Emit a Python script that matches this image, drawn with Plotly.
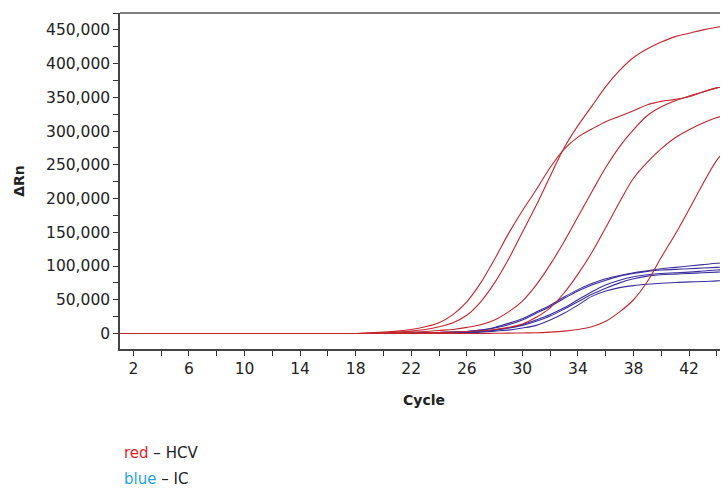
import plotly.graph_objects as go

cycles = list(range(1, 46))

# HCV (red) amplification curves, ΔRn per cycle 1..45
hcv_a = [0]*18 + [500, 1000, 2000, 3500, 6000, 10000, 16000, 27000, 47000, 75000, 110000, 150000,
                  190000, 233000, 275000, 308000, 337000, 366000, 390000, 409000, 422000, 432000,
                  440000, 445000, 450000, 454000, 457000]
hcv_b = [0]*18 + [1000, 2000, 3500, 6000, 10000, 16000, 28000, 47000, 75000, 110000, 148000, 182000,
                  213000, 246000, 273000, 291000, 303000, 314000, 322000, 330000, 339000, 344000,
                  347000, 351000, 358000, 364000, 368000]
hcv_c = [0]*19 + [500, 1000, 2000, 3000, 4500, 6000, 9000, 13000, 20000, 32000, 48000, 72000,
                  102000, 136000, 173000, 210000, 246000, 277000, 302000, 323000, 336000,
                  345000, 352000, 358000, 364000, 368000]
hcv_d = [0]*21 + [500, 1000, 1500, 2000, 3000, 4000, 6000, 9000, 14000, 24000, 38000, 60000,
                  88000, 120000, 157000, 195000, 230000, 254000, 274000, 290000, 302000,
                  312000, 320000, 326000]
hcv_e = [0]*27 + [300, 500, 800, 1000, 2000, 3500, 6000, 10000, 18000, 32000, 50000, 77000,
                  113000, 147000, 184000, 222000, 257000, 281000]

# IC (blue) curves
ic_1 = [0]*21 + [500, 1000, 1500, 2000, 3000, 5000, 9000, 15000, 22000, 32000, 42000, 54000, 65000,
                 74000, 81000, 86000, 90000, 93000, 96000, 98000, 100000, 102000, 104000, 105500]
ic_2 = [0]*21 + [500, 1000, 1500, 2000, 3000, 5000, 8000, 13000, 20000, 30000, 40000, 52000, 63000,
                 72000, 79000, 85000, 89000, 92000, 94000, 95000, 96000, 97000, 98000, 99000]
ic_3 = [0]*21 + [300, 700, 1000, 1500, 2000, 3000, 5000, 8000, 13000, 20000, 28000, 38000, 50000,
                 62000, 72000, 79000, 84000, 87000, 89000, 90000, 91000, 92500, 94000, 95000]
ic_4 = [0]*21 + [300, 700, 1000, 1500, 2000, 3000, 5000, 8000, 12000, 18000, 26000, 36000, 47000,
                 58000, 67000, 75000, 81000, 85000, 87000, 88000, 89000, 90000, 91000, 92000]
ic_5 = [0]*21 + [200, 500, 800, 1000, 1500, 2000, 3500, 5000, 8000, 12000, 20000, 30000, 42000,
                 55000, 63000, 68000, 71000, 73000, 74500, 75500, 76500, 77000, 78000, 78500]

hcv_series = [hcv_a, hcv_b, hcv_c, hcv_d, hcv_e]
ic_series = [ic_1, ic_2, ic_3, ic_4, ic_5]

y_ticks = list(range(0, 450001, 50000))
x_ticks = list(range(2, 43, 4))

RED = "#c3262d"
BLUE = "#3b2f9c"
FONT = "DejaVu Sans"
TICK_SIZE = 15.5

PLOT_TOP, PLOT_BOTTOM = 13, 349
PLOT_H = PLOT_BOTTOM - PLOT_TOP

fig = go.Figure()
for s in ic_series:
    fig.add_trace(go.Scatter(x=cycles, y=s, mode="lines", line=dict(color=BLUE, width=1.1),
                             line_shape="spline", showlegend=False, hoverinfo="skip"))
for s in hcv_series:
    fig.add_trace(go.Scatter(x=cycles, y=s, mode="lines", line=dict(color=RED, width=1.1),
                             line_shape="spline", showlegend=False, hoverinfo="skip"))

fig.update_layout(
    width=720, height=480,
    margin=dict(l=112, r=0, t=PLOT_TOP - 8, b=480 - (PLOT_TOP - 8) - PLOT_H),
    paper_bgcolor="white", plot_bgcolor="white",
    font=dict(family=FONT, size=14, color="#222"),
    xaxis=dict(
        range=[1.04, 44.8], tickvals=x_ticks, ticks="outside", ticklen=5, tickwidth=1,
        tickcolor="#333", showline=True, linecolor="#444", linewidth=1.5, showgrid=False,
        zeroline=False, tickfont=dict(size=TICK_SIZE, color="#222"),
        minor=dict(tick0=0, dtick=2, ticks="outside", ticklen=5, tickcolor="#333", showgrid=False),
        title=dict(text="<b>Cycle</b>", font=dict(size=14, color="#222"), standoff=18),
    ),
    yaxis=dict(
        range=[-23000, 475000], tickvals=y_ticks, tickformat=",d", ticks="outside", ticklen=5,
        tickwidth=1, tickcolor="#333", showline=True, linecolor="#444", linewidth=1.5,
        showgrid=False, zeroline=False, tickfont=dict(size=TICK_SIZE, color="#222"),
        minor=dict(tick0=0, dtick=25000, ticks="outside", ticklen=5, tickcolor="#333", showgrid=False),
        title=dict(text="<b>ΔRn</b>", font=dict(size=14, color="#222"), standoff=18),
    ),
    shapes=[dict(type="line", xref="paper", yref="paper", x0=0, x1=1, y0=1, y1=1,
                 line=dict(color="#555", width=1.5))],
    annotations=[
        dict(text="<span style='color:#e51e2b'>red</span> – HCV", xref="paper", yref="paper",
             x=0.003, y=(PLOT_BOTTOM - 453) / PLOT_H, xanchor="left", yanchor="middle",
             showarrow=False, font=dict(size=15, color="#222", family=FONT)),
        dict(text="<span style='color:#1ea5e3'>blue</span> – IC", xref="paper", yref="paper",
             x=0.003, y=(PLOT_BOTTOM - 479) / PLOT_H, xanchor="left", yanchor="middle",
             showarrow=False, font=dict(size=15, color="#222", family=FONT)),
    ],
)

fig.write_html("out.html")
